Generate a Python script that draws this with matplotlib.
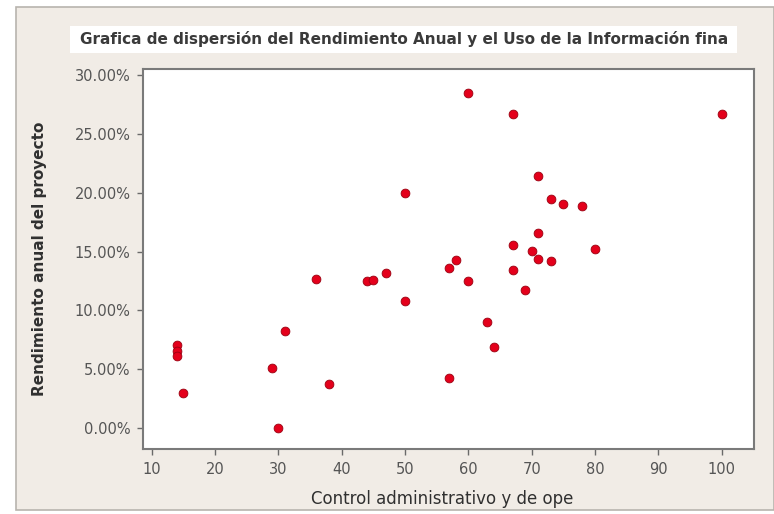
import matplotlib
matplotlib.use("Agg")
import matplotlib.pyplot as plt
from matplotlib.patches import Rectangle
from matplotlib.ticker import FuncFormatter, FixedLocator

# Data
control_admin = [14, 14, 14, 15, 29, 30, 31, 36, 38, 44, 45, 47, 50, 50,
                 57, 57, 58, 60, 60, 63, 64, 67, 67, 67, 69, 70,
                 71, 71, 71, 73, 73, 75, 78, 80, 100]
rendimiento = [7.1, 6.6, 6.1, 3.0, 5.1, 0.0, 8.3, 12.7, 3.8, 12.5, 12.6, 13.2, 20.0, 10.8,
               13.6, 4.3, 14.3, 28.5, 12.5, 9.0, 6.9, 26.7, 15.6, 13.4, 11.7, 15.05,
               21.45, 16.6, 14.35, 19.5, 14.2, 19.0, 18.9, 15.2, 26.7]
x_ticks = [10, 20, 30, 40, 50, 60, 70, 80, 90, 100]
y_ticks = [0, 5, 10, 15, 20, 25, 30]

title = "Grafica de dispersión del Rendimiento Anual y el Uso de la Información fina"
x_label = "Control administrativo y de ope"
y_label = "Rendimiento anual del proyecto"

W, H = 774, 514
fig = plt.figure(figsize=(W / 100, H / 100), dpi=100, facecolor="white")

beige = "#f1ece6"
# outer panel
fig.patches.append(Rectangle((16 / W, 1 - 510 / H), (W - 16) / W, (510 - 7) / H,
                             transform=fig.transFigure, facecolor=beige,
                             edgecolor="#b8b4ae", linewidth=1.2, zorder=-2))
# title box
fig.patches.append(Rectangle((70 / W, 1 - 53 / H), (737 - 70) / W, (53 - 26) / H,
                             transform=fig.transFigure, facecolor="white",
                             edgecolor="none", zorder=-1))
fig.text(404 / W, 1 - 39 / H, title, ha="center", va="center",
         fontsize=11, fontweight="bold", color="#3a3a3a", zorder=2)

ax = fig.add_axes([143 / W, 1 - 449 / H, (754 - 143) / W, (449 - 69) / H])
ax.set_zorder(1)
ax.set_facecolor("white")
ax.scatter(control_admin, rendimiento, s=40, color="#e4001b",
           edgecolors="#9a0010", linewidths=0.6, zorder=3)

ax.set_xlim(8.63, 105.1)
ax.set_ylim(-1.76, 30.5)
ax.xaxis.set_major_locator(FixedLocator(x_ticks))
ax.yaxis.set_major_locator(FixedLocator(y_ticks))
ax.yaxis.set_major_formatter(FuncFormatter(lambda v, p: f"{v:.2f}%"))

for s in ax.spines.values():
    s.set_color("#7a7a7a")
    s.set_linewidth(1.5)
ax.tick_params(axis="both", direction="out", length=4, width=1,
               color="#6a6a6a", labelcolor="#555555", labelsize=10.5)
ax.tick_params(axis="y", pad=5)
ax.tick_params(axis="x", pad=5)
ax.set_xlabel(x_label, fontsize=12, color="#303030")
ax.set_ylabel(y_label, fontsize=11, color="#303030", fontweight="bold")
ax.xaxis.set_label_coords(0.49, -0.108)
ax.yaxis.set_label_coords(-0.157, 0.5)

fig.savefig("out.png", dpi=100, facecolor=fig.get_facecolor())
